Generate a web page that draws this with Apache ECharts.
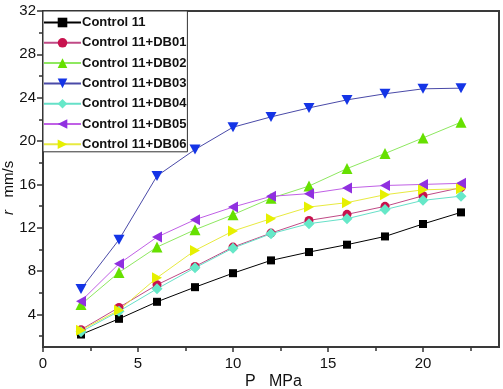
<!DOCTYPE html>
<html><head><meta charset="utf-8">
<script src="https://cdn.jsdelivr.net/npm/echarts@6/dist/echarts.min.js"></script>
<style>html,body{margin:0;padding:0;background:#fff}#c{width:503px;height:389px}</style>
</head><body><div id="c"></div>
<script>
const pressure = [2,4,6,8,10,12,14,16,18,20,22];
const seriesNames = ['Control 11','Control 11+DB01','Control 11+DB02','Control 11+DB03','Control 11+DB04','Control 11+DB05','Control 11+DB06'];
const control11 = [2.15,3.6,5.17,6.52,7.81,8.99,9.76,10.44,11.2,12.35,13.42];
const db01 = [2.6,4.65,6.74,8.43,10.22,11.51,12.68,13.24,13.98,14.95,15.7];
const db02 = [4.92,7.88,10.22,11.82,13.21,14.72,15.85,17.46,18.85,20.29,21.74];
const db03 = [6.34,10.9,16.78,19.22,21.28,22.23,23.06,23.8,24.36,24.82,24.88];
const db04 = [2.4,4.3,6.37,8.31,10.12,11.45,12.38,12.84,13.68,14.53,14.92];
const db05 = [5.23,8.68,11.14,12.75,13.91,14.9,15.15,15.67,15.9,16.0,16.1];
const db06 = [2.55,4.4,7.39,9.91,11.7,12.84,13.91,14.32,15.05,15.5,15.6];
const xLabelValues = [0,5,10,15,20];
const xMinorValues = [2.5,7.5,12.5,17.5,22.5];
const yLabelValues = [4,8,12,16,20,24,28,32];
const yMinorValues = [2,6,10,14,18,22,26,30];

const allData = [control11, db01, db02, db03, db04, db05, db06];
const styles = [
  {symbol:'rect', size:8, mc:'#000000', lc:'#000000'},
  {symbol:'circle', size:9, mc:'#c8124e', lc:'#c04a86'},
  {symbol:'triangle', size:11, mc:'#66e000', lc:'#8ee860'},
  {symbol:'path://M0,0 L10,0 L5,9 Z', size:[11,10], mc:'#1434e6', lc:'#4a4aa8'},
  {symbol:'diamond', size:11, mc:'#66e8c8', lc:'#66e0c8'},
  {symbol:'path://M0,5 L9,0 L9,10 Z', size:[10,11], mc:'#9030e0', lc:'#c060e6'},
  {symbol:'path://M0,0 L9,5 L0,10 Z', size:[10,11], mc:'#e6f000', lc:'#e8ea40'}
];
const series = allData.map((d, i) => ({
  name: seriesNames[i],
  type: 'line',
  data: pressure.map((p, j) => [p, d[j]]),
  symbol: styles[i].symbol,
  symbolSize: styles[i].size,
  itemStyle: {color: styles[i].mc},
  lineStyle: {color: styles[i].lc, width: 1},
  animation: false
}));

const chart = echarts.init(document.getElementById('c'), null, {renderer:'canvas'});
const font = '"Liberation Sans", Arial, sans-serif';
chart.setOption({
  animation: false,
  backgroundColor: '#ffffff',
  grid: {left: 43, right: 4, top: 11, bottom: 42, show: true, borderColor: '#3a3a3a', borderWidth: 2, backgroundColor: 'transparent'},
  legend: {
    orient: 'vertical', left: 43, top: 11,
    itemWidth: 37, itemHeight: 12, itemGap: 7.3,
    padding: [5, 1, 1, 0],
    borderColor: '#333', borderWidth: 1, backgroundColor: '#fff',
    textStyle: {fontFamily: font, fontWeight: 'bold', fontSize: 13, color: '#111', lineHeight: 12, padding: [0,0,0,-4]},
    data: seriesNames
  },
  xAxis: [{
    type: 'value', min: 0, max: 24,
    axisLine: {show: true, lineStyle: {color: '#3a3a3a', width: 2}},
    axisTick: {show: true, inside: false, length: 5, customValues: xLabelValues, lineStyle: {color: '#333', width: 1.5}},
    axisLabel: {show: true, customValues: xLabelValues, fontFamily: font, fontSize: 15, color: '#111', margin: 9},
    splitLine: {show: false}
  },{
    type: 'value', min: 0, max: 24, position: 'bottom',
    axisLine: {show: false},
    axisTick: {show: true, inside: false, length: 4, customValues: xMinorValues, lineStyle: {color: '#333', width: 1.5}},
    axisLabel: {show: false},
    splitLine: {show: false}
  }],
  yAxis: [{
    type: 'value', min: 1, max: 32,
    axisLine: {show: true, lineStyle: {color: '#3a3a3a', width: 2}},
    axisTick: {show: true, inside: false, length: 6, customValues: yLabelValues, lineStyle: {color: '#333', width: 1.5}},
    axisLabel: {show: true, customValues: yLabelValues, fontFamily: font, fontSize: 15, color: '#111', margin: 7},
    splitLine: {show: false}
  },{
    type: 'value', min: 1, max: 32, position: 'left',
    axisLine: {show: false},
    axisTick: {show: true, inside: false, length: 4, customValues: yMinorValues, lineStyle: {color: '#333', width: 1.5}},
    axisLabel: {show: false},
    splitLine: {show: false}
  }],
  graphic: [
    {type: 'text', left: 245, top: 374, style: {text: 'P   MPa', font: '16px ' + font, fill: '#111'}},
    {type: 'text', x: 1, y: 215, rotation: Math.PI/2, style: {
      text: '{i|r}   mm/s', font: '15px ' + font, fill: '#111',
      rich: {i: {fontStyle: 'italic', fontSize: 15, fontFamily: font}}
    }}
  ],
  series: series
});
</script>
</body></html>
